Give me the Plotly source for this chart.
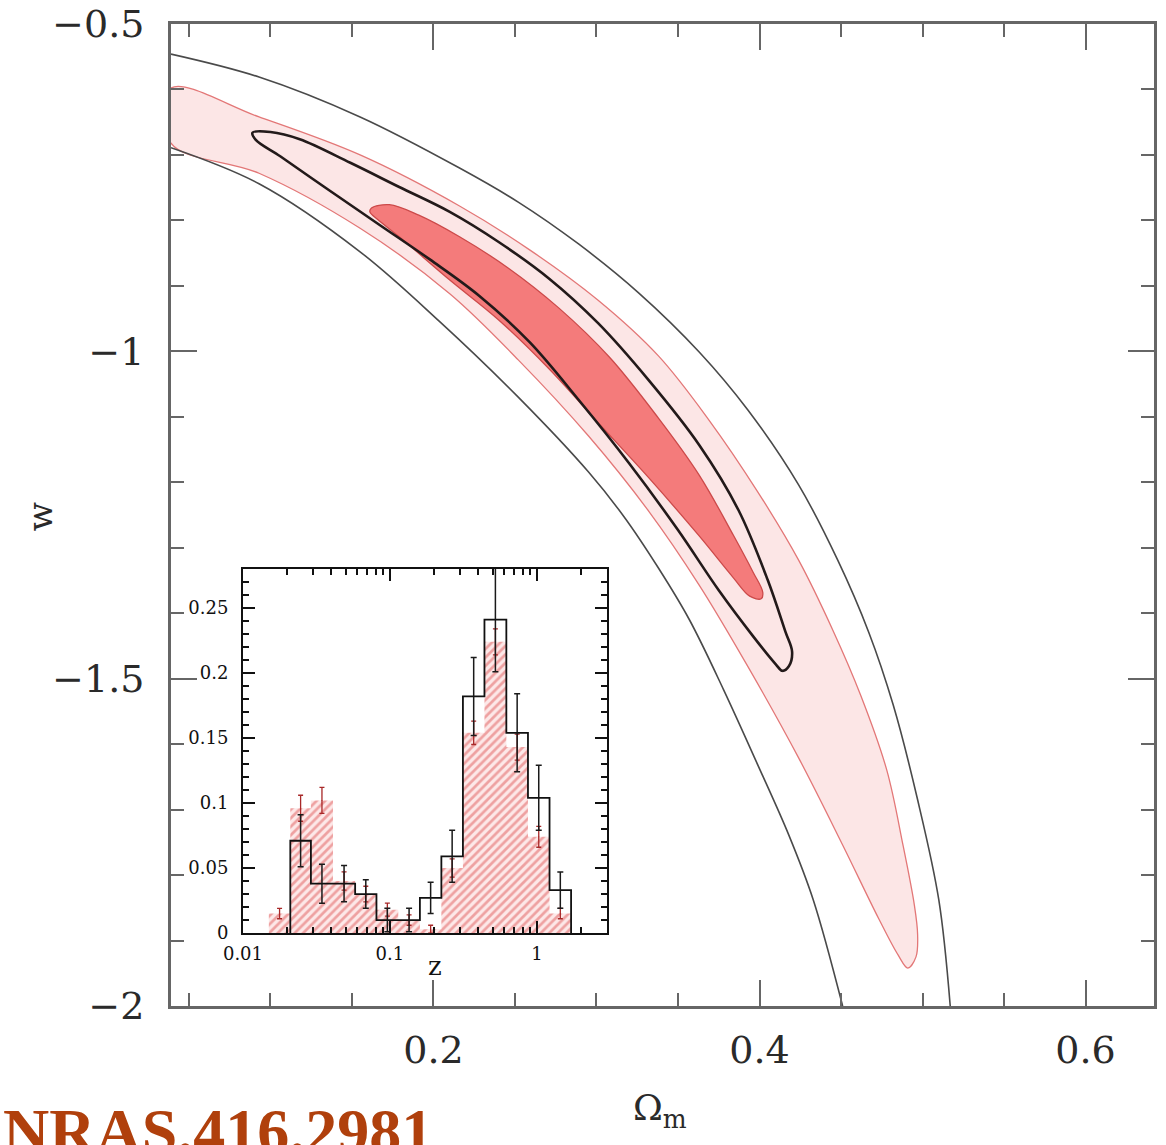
import numpy as np
import plotly.graph_objects as go

# ---------------- main panel data (Omega_m, w) ----------------
outer_upper_om = [0.039, 0.093, 0.155, 0.216, 0.252, 0.289, 0.326, 0.363, 0.393, 0.424, 0.448, 0.467, 0.482, 0.497, 0.510, 0.517]
outer_upper_w = [-0.546, -0.581, -0.642, -0.720, -0.772, -0.836, -0.911, -1.001, -1.090, -1.204, -1.319, -1.429, -1.540, -1.685, -1.838, -2.000]

outer_lower_om = [0.039, 0.093, 0.155, 0.204, 0.252, 0.295, 0.317, 0.338, 0.357, 0.378, 0.399, 0.418, 0.433, 0.451]
outer_lower_w = [-0.689, -0.744, -0.848, -0.955, -1.070, -1.184, -1.253, -1.331, -1.410, -1.517, -1.632, -1.739, -1.838, -2.000]

pink_upper_om = [0.039, 0.093, 0.155, 0.216, 0.259, 0.301, 0.338, 0.369, 0.399, 0.424, 0.445, 0.462, 0.478, 0.488, 0.495, 0.497, 0.496, 0.491]
pink_upper_w = [-0.598, -0.642, -0.700, -0.778, -0.845, -0.922, -1.007, -1.105, -1.215, -1.319, -1.426, -1.525, -1.639, -1.754, -1.846, -1.891, -1.925, -1.942]
pink_lower_om = [0.485, 0.473, 0.451, 0.424, 0.393, 0.363, 0.332, 0.295, 0.252, 0.210, 0.155, 0.093, 0.039]
pink_lower_w = [-1.922, -1.866, -1.754, -1.621, -1.482, -1.357, -1.244, -1.129, -1.013, -0.912, -0.812, -0.728, -0.682]

loop_om = [0.089, 0.100, 0.118, 0.149, 0.179, 0.210, 0.240, 0.271, 0.301, 0.332, 0.363, 0.387, 0.405, 0.416, 0.420, 0.418,
           0.414, 0.410, 0.396, 0.375, 0.350, 0.320, 0.289, 0.259, 0.228, 0.198, 0.167, 0.136, 0.106, 0.091, 0.089]
loop_w = [-0.666, -0.665, -0.676, -0.712, -0.749, -0.787, -0.833, -0.889, -0.957, -1.044, -1.143, -1.242, -1.349, -1.429, -1.459, -1.481,
          -1.488, -1.478, -1.435, -1.365, -1.273, -1.171, -1.074, -0.986, -0.915, -0.860, -0.807, -0.754, -0.702, -0.677, -0.666]

core_om = [0.162, 0.173, 0.191, 0.216, 0.246, 0.277, 0.308, 0.338, 0.363, 0.384, 0.396, 0.402, 0.401,
           0.394, 0.384, 0.363, 0.332, 0.301, 0.271, 0.240, 0.210, 0.179, 0.166, 0.161, 0.162]
core_w = [-0.781, -0.776, -0.792, -0.825, -0.873, -0.934, -1.009, -1.102, -1.189, -1.281, -1.337, -1.368, -1.378,
          -1.374, -1.346, -1.282, -1.193, -1.109, -1.027, -0.952, -0.891, -0.825, -0.799, -0.787, -0.781]

# ---------------- inset data (redshift histograms) ----------------
black_edges = [0.021, 0.029, 0.041, 0.058, 0.081, 0.114, 0.16, 0.224, 0.314, 0.44, 0.62, 0.87, 1.22, 1.71]
black_heights = [0.071, 0.038, 0.038, 0.030, 0.010, 0.010, 0.027, 0.059, 0.182, 0.241, 0.154, 0.104, 0.033]
black_errors = [0.020, 0.015, 0.014, 0.011, 0.009, 0.009, 0.012, 0.020, 0.030, 0.040, 0.030, 0.025, 0.014]

red_edges = [0.015, 0.021, 0.029, 0.041, 0.058, 0.081, 0.114, 0.16, 0.224, 0.314, 0.44, 0.62, 0.87, 1.22, 1.71]
red_heights = [0.015, 0.096, 0.102, 0.040, 0.030, 0.018, 0.010, 0.003, 0.050, 0.154, 0.224, 0.143, 0.074, 0.015]
red_errors = [0.004, 0.010, 0.010, 0.007, 0.006, 0.005, 0.004, 0.003, 0.007, 0.009, 0.010, 0.010, 0.008, 0.004]

inset_xticks = [0.01, 0.1, 1]
inset_xticktext = ["0.01", "0.1", "1"]
inset_yticks = [0, 0.05, 0.1, 0.15, 0.2, 0.25]
inset_yticktext = ["0", "0.05", "0.1", "0.15", "0.2", "0.25"]
inset_xminor = [m * 10.0 ** d for d in (-2, -1, 0) for m in range(2, 10)]

SERIF = "DejaVu Serif"
AX_GRAY = "#666666"
SMOOTH = 1.0

fig = go.Figure()

# pink outer region
fig.add_trace(go.Scatter(
    x=pink_upper_om + pink_lower_om + [pink_upper_om[0]],
    y=pink_upper_w + pink_lower_w + [pink_upper_w[0]],
    mode="lines", fill="toself", fillcolor="#fce6e6",
    line=dict(color="#e37777", width=1.3, shape="spline", smoothing=SMOOTH),
    hoverinfo="skip", showlegend=False))

# inner red region
fig.add_trace(go.Scatter(
    x=core_om, y=core_w, mode="lines", fill="toself", fillcolor="#f47b7b",
    line=dict(color="#cc4a4a", width=1.3, shape="spline", smoothing=SMOOTH),
    hoverinfo="skip", showlegend=False))

# thick black loop
fig.add_trace(go.Scatter(
    x=loop_om, y=loop_w, mode="lines",
    line=dict(color="#231a1a", width=2.6, shape="spline", smoothing=SMOOTH),
    hoverinfo="skip", showlegend=False))

# outer thin lines
for xs, ys in ((outer_upper_om, outer_upper_w), (outer_lower_om, outer_lower_w)):
    fig.add_trace(go.Scatter(
        x=xs, y=ys, mode="lines",
        line=dict(color="#4a4a4a", width=1.6, shape="spline", smoothing=SMOOTH),
        hoverinfo="skip", showlegend=False))


def step_xy(edges, heights):
    xs = [edges[0]]
    ys = [0.0]
    for e, h in zip(edges[:-1], heights):
        xs.append(e)
        ys.append(h)
    xs.append(edges[-1])
    ys.append(0.0)
    return xs, ys


# red hatched histogram
rx, ry = step_xy(red_edges, red_heights)
fig.add_trace(go.Scatter(
    x=rx, y=ry, xaxis="x2", yaxis="y2", mode="lines",
    line=dict(width=0, shape="hv", color="rgba(0,0,0,0)"),
    fill="tozeroy", fillcolor="rgba(0,0,0,0)",
    fillpattern=dict(shape="/", fgcolor="#df5a5a", bgcolor="#fde8e8", size=6, solidity=0.45),
    hoverinfo="skip", showlegend=False))

red_centers = [np.sqrt(a * b) for a, b in zip(red_edges[:-1], red_edges[1:])]
fig.add_trace(go.Scatter(
    x=red_centers, y=red_heights, xaxis="x2", yaxis="y2", mode="markers",
    marker=dict(size=1, color="#a82828"),
    error_y=dict(type="data", array=red_errors, color="#a82828", thickness=1.3, width=2.5),
    hoverinfo="skip", showlegend=False))

# black step histogram
bx, by = step_xy(black_edges, black_heights)
fig.add_trace(go.Scatter(
    x=bx, y=by, xaxis="x2", yaxis="y2", mode="lines",
    line=dict(color="#111111", width=1.8, shape="hv"),
    hoverinfo="skip", showlegend=False))

black_centers = [np.sqrt(a * b) for a, b in zip(black_edges[:-1], black_edges[1:])]
fig.add_trace(go.Scatter(
    x=black_centers, y=black_heights, xaxis="x2", yaxis="y2", mode="markers",
    marker=dict(size=1, color="#111111"),
    error_y=dict(type="data", array=black_errors, color="#1a1a1a", thickness=1.5, width=3),
    hoverinfo="skip", showlegend=False))

main_axis = dict(
    showgrid=False, zeroline=False, showline=True, linecolor=AX_GRAY, linewidth=3,
    mirror="ticks", ticks="inside", ticklen=26, tickwidth=2, tickcolor=AX_GRAY,
    automargin=False,
    tickfont=dict(family=SERIF, size=38, color="#2a2a2a"),
)

fig.update_layout(
    width=1166, height=1145,
    margin=dict(l=171, r=12, t=24, b=139),
    paper_bgcolor="white", plot_bgcolor="white",
    xaxis=dict(main_axis, range=[0.039, 0.642], tick0=0, dtick=0.2, ticklabelstandoff=8,
               minor=dict(tick0=0, dtick=0.05, ticks="inside", ticklen=13, tickwidth=2, tickcolor=AX_GRAY)),
    yaxis=dict(main_axis, range=[-2, -0.5], tick0=0, dtick=0.5, ticklabelstandoff=16,
               minor=dict(tick0=0, dtick=0.1, ticks="inside", ticklen=13, tickwidth=2, tickcolor=AX_GRAY)),
    xaxis2=dict(type="log", domain=[0.0732, 0.4435], anchor="y2", range=[-2, np.log10(3.0)],
                showgrid=False, zeroline=False, showline=True, linecolor="#111", linewidth=2,
                mirror="ticks", ticks="inside", ticklen=12, tickwidth=1.5, tickcolor="#111",
                tickvals=inset_xticks, ticktext=inset_xticktext, ticklabelstandoff=3,
                automargin=False,
                tickfont=dict(family=SERIF, size=18, color="#111"),
                minor=dict(tickmode="array", tickvals=inset_xminor, ticks="inside", ticklen=6,
                           tickwidth=1.5, tickcolor="#111")),
    yaxis2=dict(domain=[0.0743, 0.445], anchor="x2", range=[0, 0.28],
                showgrid=False, zeroline=False, showline=True, linecolor="#111", linewidth=2,
                mirror="ticks", ticks="inside", ticklen=12, tickwidth=1.5, tickcolor="#111",
                tickvals=inset_yticks, ticktext=inset_yticktext, ticklabelstandoff=9,
                automargin=False,
                tickfont=dict(family=SERIF, size=18, color="#111"),
                minor=dict(tick0=0, dtick=0.01, ticks="inside", ticklen=6, tickwidth=1.5, tickcolor="#111")),
)

fig.add_annotation(text="w", xref="paper", yref="paper", x=-0.133, y=0.498,
                   xanchor="center", yanchor="middle",
                   showarrow=False, textangle=-90,
                   font=dict(family=SERIF, size=34, color="#2a2a2a"))
fig.add_annotation(text="Ω<sub>m</sub>", xref="paper", yref="paper", x=0.497, y=-0.106,
                   xanchor="center", yanchor="middle",
                   showarrow=False, font=dict(family=SERIF, size=36, color="#2a2a2a"))
fig.add_annotation(text="z", xref="paper", yref="paper", x=0.2686, y=0.041,
                   xanchor="center", yanchor="middle",
                   showarrow=False, font=dict(family=SERIF, size=26, color="#111"))
fig.add_annotation(text="<b>NRAS.416.2981</b>", xref="paper", yref="paper",
                   x=-0.173, y=-0.128, xanchor="left", yanchor="middle",
                   showarrow=False,
                   font=dict(family="Liberation Serif", size=64, color="#b0400c"))

fig.write_html("out.html", config={"displayModeBar": False},
               post_script="document.body.style.margin='0';")
